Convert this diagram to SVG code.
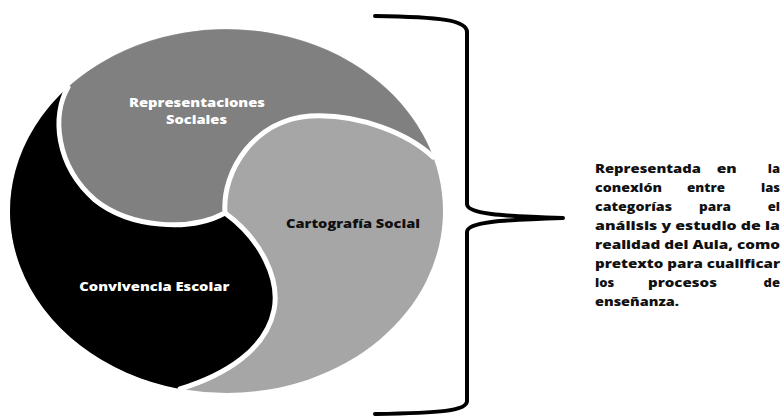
<svg xmlns="http://www.w3.org/2000/svg" width="783" height="418" viewBox="0 0 783 418">
  <style>
    .lbl { font-family: "Open Sans", "Liberation Sans", sans-serif; font-weight: 800; font-size: 13px; }
    .light { fill: #ffffff; }
    .dark { fill: #111111; }
    .sep { fill: none; stroke: #ffffff; stroke-width: 5; stroke-linecap: round; stroke-linejoin: round; }
    .brace { fill: none; stroke: #000000; stroke-width: 4; stroke-linecap: round; stroke-linejoin: round; }
  </style>

  <!-- Cartografía Social: the whole ellipse, the other two regions sit on top -->
  <g id="cartografia-social">
    <ellipse cx="226.5" cy="211" rx="216.5" ry="182" fill="#a6a6a6"/>
    <text class="lbl dark" x="286" y="228.3" textLength="134" lengthAdjust="spacingAndGlyphs">Cartografía Social</text>
  </g>

  <!-- Representaciones Sociales: upper crescent -->
  <g id="representaciones-sociales">
    <path fill="#808080" d="M68,87.3 A216.5,182 0 0 1 433,157 C410,135 360,113 310,116 C255,120 222,170 225,213 C190,232 130,228 95,200 C55,165 52,115 68,87.3 Z"/>
    <text class="lbl light" x="197" y="106.7" text-anchor="middle" textLength="136" lengthAdjust="spacingAndGlyphs">Representaciones</text>
    <text class="lbl light" x="196.5" y="124.3" text-anchor="middle" textLength="61" lengthAdjust="spacingAndGlyphs">Sociales</text>
  </g>

  <!-- Convivencia Escolar: left crescent -->
  <g id="convivencia-escolar">
    <path fill="#000000" d="M68,87.3 A216.5,182 0 0 0 180,389 C225,375 266,350 274,310 C280,280 262,240 225,213 C190,232 130,228 95,200 C55,165 52,115 68,87.3 Z"/>
    <text class="lbl light" x="79.3" y="290.7" textLength="150" lengthAdjust="spacingAndGlyphs">Convivencia Escolar</text>
  </g>

  <!-- white seams between the three regions -->
  <g id="seams">
    <path class="sep" d="M68,87.3 C52,115 55,165 95,200 C130,228 190,232 225,213"/>
    <path class="sep" d="M225,213 C222,170 255,120 310,116 C360,113 410,135 433,157"/>
    <path class="sep" d="M225,213 C262,240 280,280 274,310 C266,350 225,375 180,389"/>
  </g>

  <!-- connector: curly brace gathering the three categories -->
  <g id="connectors">
    <path class="brace" d="M375,16 C440,17 467,20 467,32 L467,204 C467,214 500,216 563,218 C500,220 467,222 467,232 L467,401 C467,411 440,413 375,414"/>
  </g>

  <!-- description, justified -->
  <g id="descripcion" class="lbl dark">
    <text x="595" y="172.7" textLength="106" lengthAdjust="spacingAndGlyphs">Representada</text>
    <text x="716.7" y="172.7" textLength="20" lengthAdjust="spacingAndGlyphs">en</text>
    <text x="780" y="172.7" text-anchor="end">la</text>

    <text x="595" y="191.7" textLength="67" lengthAdjust="spacingAndGlyphs">conexión</text>
    <text x="687" y="191.7" textLength="38" lengthAdjust="spacingAndGlyphs">entre</text>
    <text x="780" y="191.7" text-anchor="end">las</text>

    <text x="595" y="210.7" textLength="77" lengthAdjust="spacingAndGlyphs">categorías</text>
    <text x="699" y="210.7" textLength="32" lengthAdjust="spacingAndGlyphs">para</text>
    <text x="780" y="210.7" text-anchor="end">el</text>

    <text x="595" y="229.7" textLength="185" lengthAdjust="spacingAndGlyphs">análisis y estudio de la</text>
    <text x="595" y="248.7" textLength="185" lengthAdjust="spacingAndGlyphs">realidad del Aula, como</text>
    <text x="595" y="267.7" textLength="185" lengthAdjust="spacingAndGlyphs">pretexto para cualificar</text>

    <text x="595" y="286.7">los</text>
    <text x="648" y="286.7" textLength="69" lengthAdjust="spacingAndGlyphs">procesos</text>
    <text x="780" y="286.7" text-anchor="end">de</text>

    <text x="595" y="305.7" textLength="84" lengthAdjust="spacingAndGlyphs">enseñanza.</text>
  </g>
</svg>
